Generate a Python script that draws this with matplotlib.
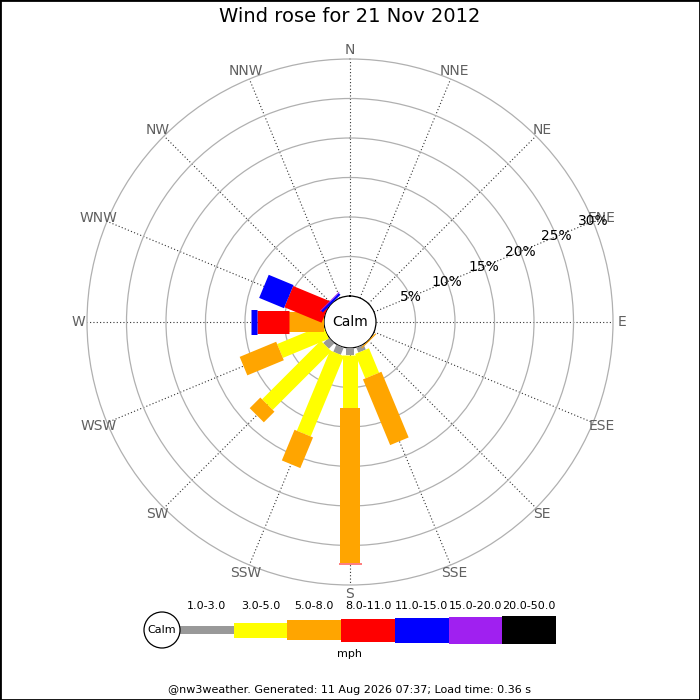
import numpy as np
import matplotlib
matplotlib.use("Agg")
import matplotlib.pyplot as plt
from matplotlib.patches import Circle, Rectangle

# 16 compass directions, clockwise from north
directions = ['N', 'NNE', 'NE', 'ENE', 'E', 'ESE', 'SE', 'SSE',
              'S', 'SSW', 'SW', 'WSW', 'W', 'WNW', 'NW', 'NNW']

speed_bins = ['1.0-3.0', '3.0-5.0', '5.0-8.0', '8.0-11.0',
              '11.0-15.0', '15.0-20.0', '20.0-50.0']
bin_colors = ['#999999', '#ffff00', '#ffa500', '#ff0000',
              '#0000ff', '#a020f0', '#000000']
bin_widths_px = [8, 15, 20, 23, 25, 27, 28]

# percentage of time per direction, one list per speed bin
pct_1_3 = [0, 0, 0, 0, 0, 0, 0, 0.7, 0.9, 1.0, 1.0, 0, 0, 0, 0, 0]
pct_3_5 = [0, 0, 0, 0, 0, 0, 0, 3.35, 6.7, 11.0, 10.5, 6.3, 0, 0, 0, 0]
pct_5_8 = [0, 0, 0, 0, 0, 0, 0.15, 9.0, 19.6, 4.2, 1.9, 5.0, 4.4, 0, 0, 0]
pct_8_11 = [0, 0, 0, 0, 0, 0, 0, 0, 0.15, 0, 0, 0, 4.1, 5.1, 0, 0]
pct_11_15 = [0, 0, 0, 0, 0, 0, 0, 0, 0, 0, 0, 0, 0.7, 3.4, 0.3, 0]
pct_15_20 = [0, 0, 0, 0, 0, 0, 0, 0, 0, 0, 0, 0, 0, 0, 0.1, 0]
pct_20_50 = [0] * 16

ring_values = [5, 10, 15, 20, 25, 30]
title = 'Wind rose for 21 Nov 2012'
footer = '@nw3weather. Generated: 11 Aug 2026 07:37; Load time: 0.36 s'

fig = plt.figure(figsize=(7, 7), dpi=100)
W = H = 700.0

# polar axes: centre at (350, 322) px, outer ring radius 263 px, calm radius 26 px
cx, cy, R, calm_px = 350, 322, 263, 26
ax = fig.add_axes([(cx - R) / W, (H - cy - R) / H, 2 * R / W, 2 * R / H],
                  projection='polar')
ax.set_theta_zero_location('N')
ax.set_theta_direction(-1)
rmax = ring_values[-1]
rorig = -calm_px * rmax / (R - calm_px)
ax.set_rlim(0, rmax)
ax.set_rorigin(rorig)

theta = np.deg2rad(np.arange(16) * 22.5)
ax.set_thetagrids(np.arange(16) * 22.5, labels=[''] * 16)
ax.set_rgrids(ring_values[:-1], labels=[''] * (len(ring_values) - 1))
ax.xaxis.grid(True, linestyle=(0, (1, 2)), color='#333333', linewidth=0.8)
ax.yaxis.grid(True, linestyle='-', color='#b0b0b0', linewidth=0.9)
ax.tick_params(length=0)
ax.spines['polar'].set_color('#b0b0b0')
ax.spines['polar'].set_linewidth(0.9)
if 'inner' in ax.spines:
    ax.spines['inner'].set_color('black')
    ax.spines['inner'].set_linewidth(0.9)
    ax.spines['inner'].set_visible(True)

# stacked bars drawn as thick radial lines (constant pixel width)
series = [pct_1_3, pct_3_5, pct_5_8, pct_8_11, pct_11_15, pct_15_20, pct_20_50]
base = np.zeros(16)
for vals, col, wpx in zip(series, bin_colors, bin_widths_px):
    vals = np.array(vals, dtype=float)
    for i in range(16):
        if vals[i] > 0:
            ax.plot([theta[i], theta[i]], [base[i], base[i] + vals[i]],
                    color=col, linewidth=wpx * 0.72, solid_capstyle='butt',
                    zorder=3)
    base += vals

# direction labels
r_lab = rorig + (R + 9) / R * (rmax - rorig)
for t, name in zip(theta, directions):
    ax.text(t, r_lab, name, ha='center', va='center', fontsize=10,
            color='#606060', clip_on=False)

# ring labels along ENE
for rv in ring_values:
    ax.text(np.deg2rad(67.5), rv, f'{rv}%', ha='center', va='center',
            fontsize=10, color='black', zorder=4)

ax.text(0.5, 0.5, 'Calm', transform=ax.transAxes, ha='center', va='center',
        fontsize=10, zorder=5)

fig.text(0.5, 1 - 17 / H, title, ha='center', va='center', fontsize=14)
fig.text(0.5, 10 / H, footer, ha='center', va='center', fontsize=8)

# legend strip
lg = fig.add_axes([140 / W, 35 / H, 420 / W, 70 / H])
lg.set_xlim(0, 420)
lg.set_ylim(-35, 35)
lg.axis('off')
seg_w = 53.7
lefts = 40 + seg_w * np.arange(len(speed_bins))
hts = np.array(bin_widths_px, dtype=float)
lg.bar(lefts, hts, width=seg_w, bottom=-hts / 2, align='edge',
       color=bin_colors, linewidth=0)
for x, lab in zip(lefts, speed_bins):
    lg.text(x + seg_w / 2, 24, lab, ha='center', va='center', fontsize=8)
lg.add_patch(Circle((22, 0), 18, facecolor='white', edgecolor='black',
                    linewidth=0.9, zorder=3))
lg.text(22, 0, 'Calm', ha='center', va='center', fontsize=8, zorder=4)
lg.text(lefts[3] + 8, -24, 'mph', ha='center', va='center', fontsize=8)

fig.patches.append(Rectangle((0, 0), 1, 1, transform=fig.transFigure,
                             fill=False, edgecolor='black', linewidth=2))

fig.savefig('out.png', dpi=100)
